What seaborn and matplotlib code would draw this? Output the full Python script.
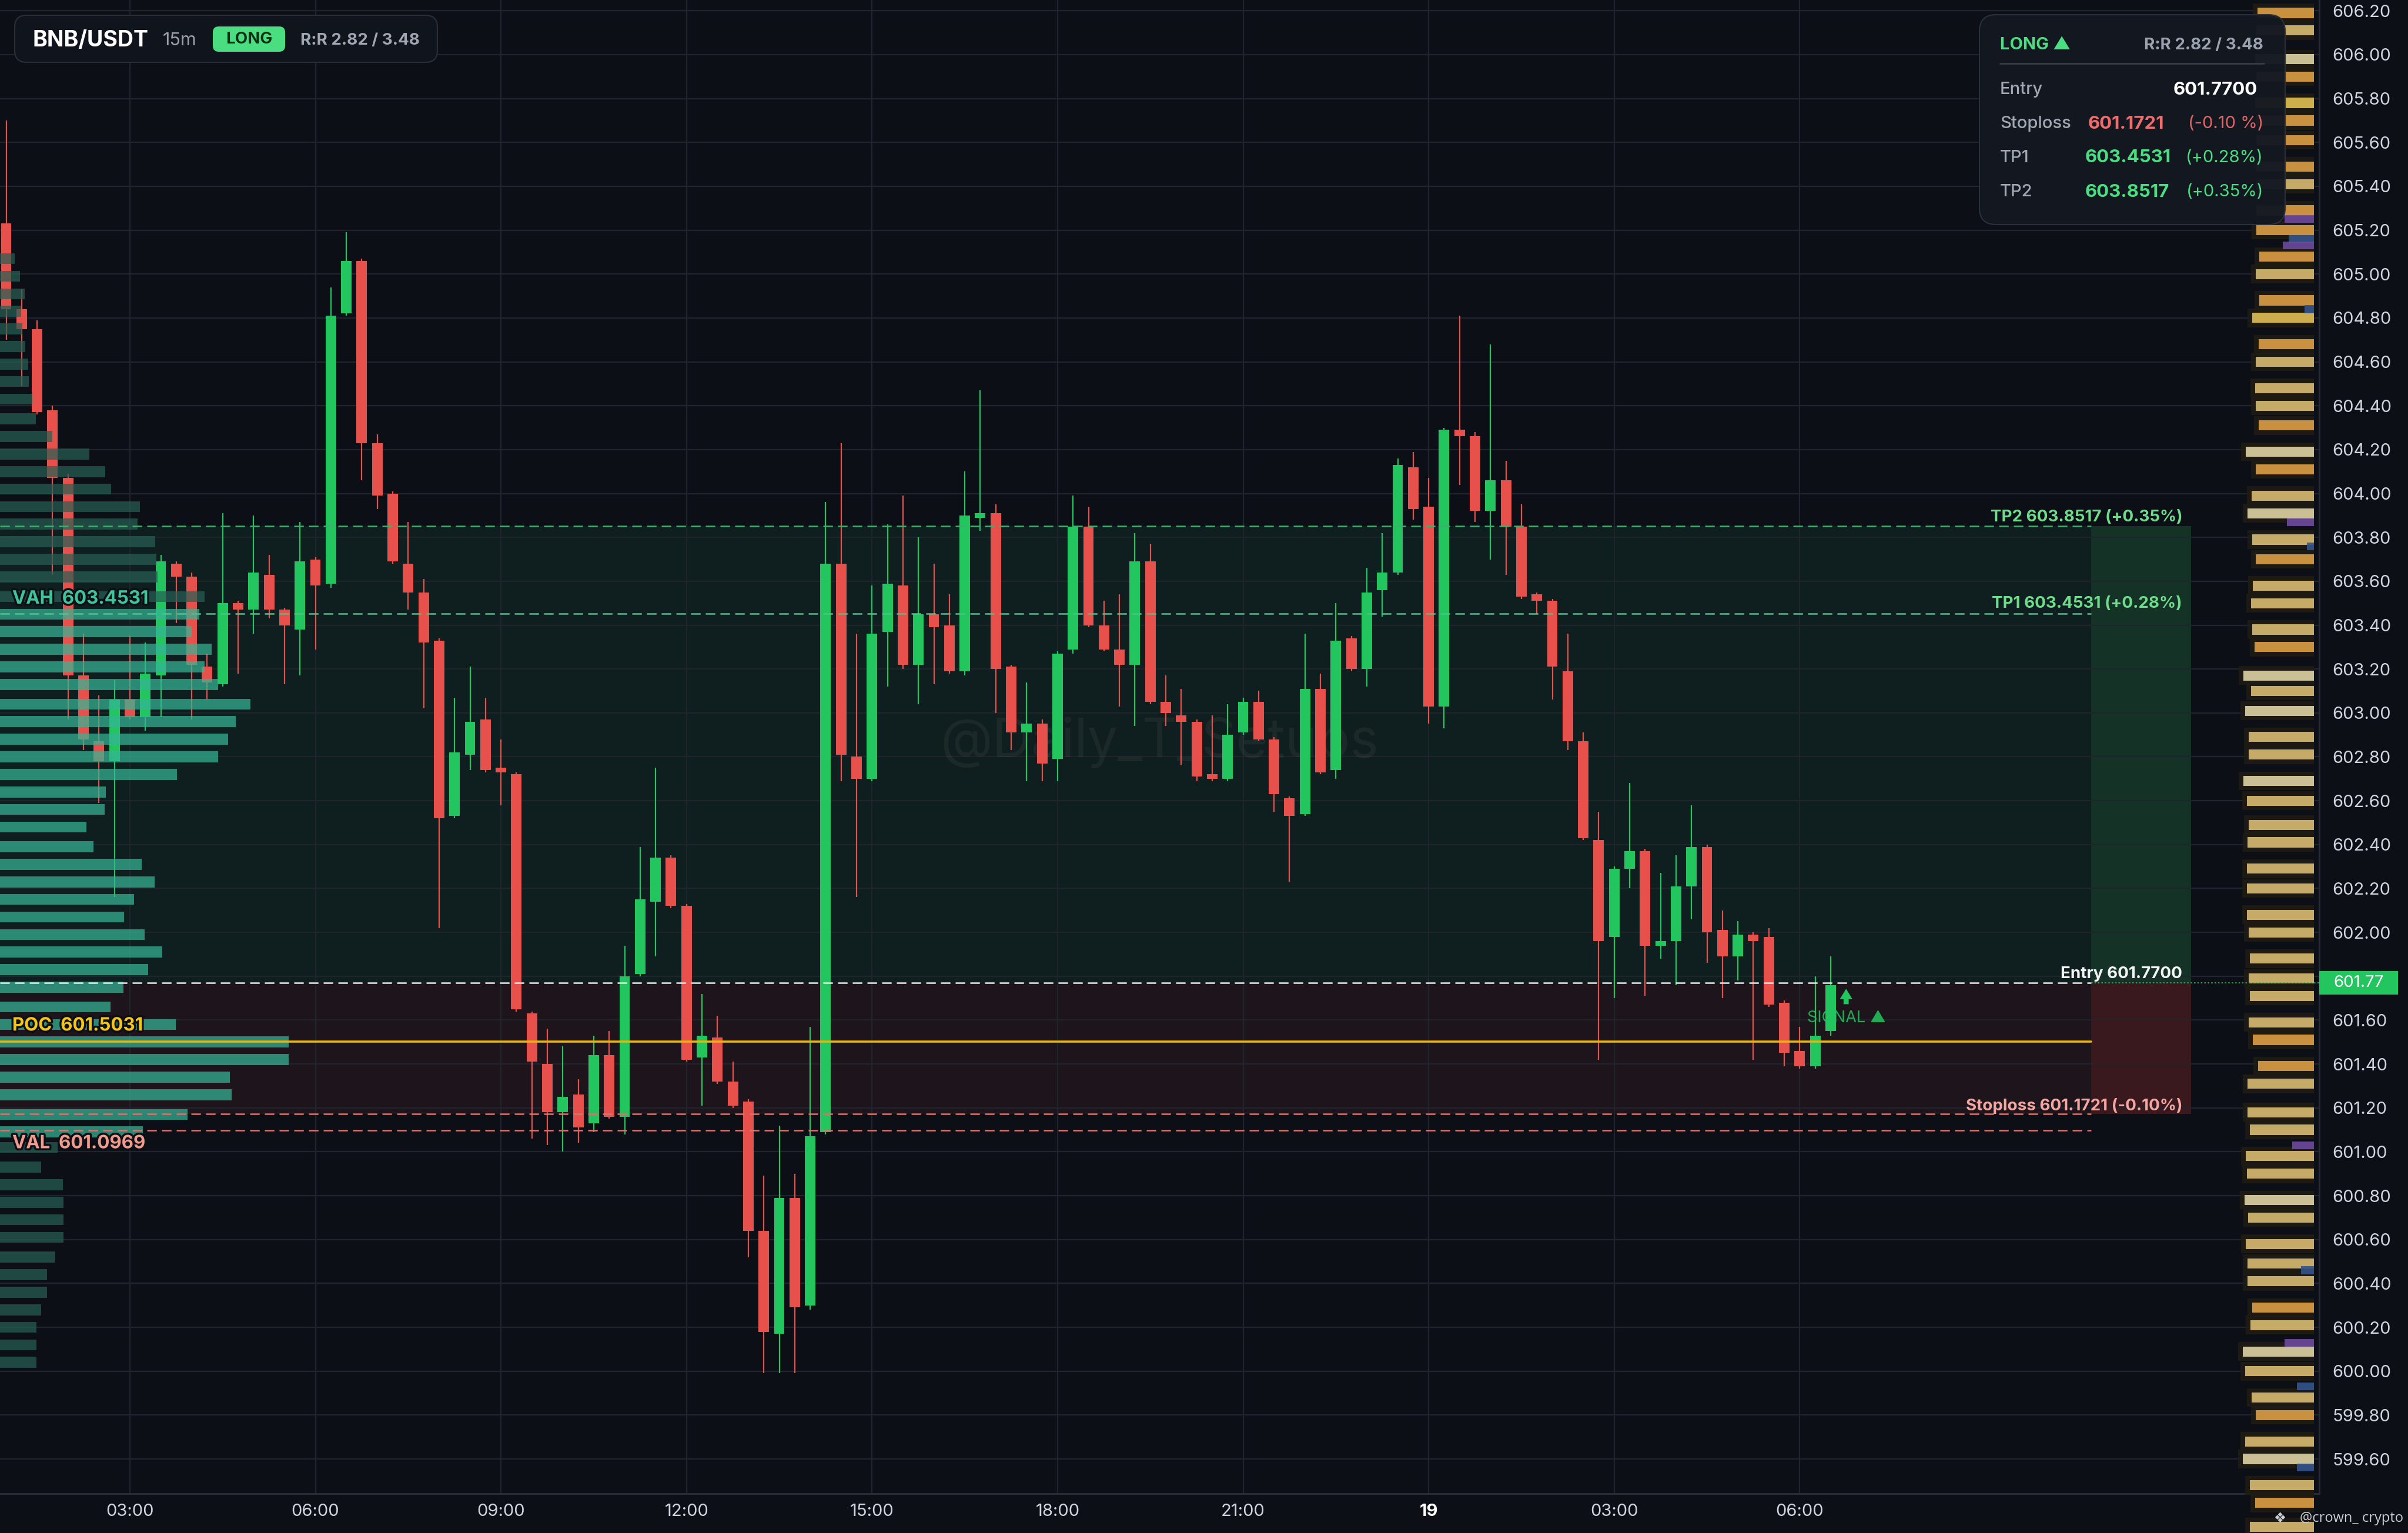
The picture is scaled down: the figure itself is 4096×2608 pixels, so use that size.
import matplotlib
matplotlib.use("Agg")
import matplotlib.pyplot as plt
import matplotlib.patheffects as pe
from matplotlib.lines import Line2D
from matplotlib.patches import FancyBboxPatch, Rectangle
import numpy as np
import pandas as pd
import seaborn as sns

# BNB/USDT 15m candles, 01:00 on the 18th to 06:30 on the 19th
opens = [605.23, 604.84, 604.75, 604.38, 604.07, 603.17, 602.87, 602.78, 603.06, 602.98,
         603.17, 603.68, 603.62, 603.21, 603.13, 603.50, 603.47, 603.63, 603.47, 603.38,
         603.70, 603.59, 604.82, 605.06, 604.23, 604.00, 603.68, 603.55, 603.33, 602.53,
         602.81, 602.97, 602.75, 602.72, 601.63, 601.40, 601.18, 601.26, 601.13, 601.44,
         601.16, 601.81, 602.14, 602.34, 602.12, 601.43, 601.52, 601.32, 601.23, 600.64,
         600.17, 600.79, 600.30, 601.09, 603.68, 602.80, 602.70, 603.37, 603.58, 603.22,
         603.45, 603.40, 603.19, 603.89, 603.91, 603.21, 602.91, 602.95, 602.79, 603.29,
         603.85, 603.40, 603.29, 603.22, 603.69, 603.05, 602.99, 602.96, 602.72, 602.70,
         602.91, 603.05, 602.88, 602.61, 602.54, 603.11, 602.74, 603.34, 603.20, 603.56,
         603.64, 604.12, 603.94, 603.03, 604.29, 604.26, 603.92, 604.06, 603.85, 603.54,
         603.51, 603.19, 602.87, 602.42, 601.98, 602.29, 602.37, 601.94, 601.96, 602.21,
         602.39, 602.01, 601.89, 601.99, 601.98, 601.68, 601.46, 601.39, 601.55]
highs = [605.70, 604.93, 604.79, 604.40, 604.09, 603.36, 603.08, 603.15, 603.35, 603.32,
         603.72, 603.69, 603.64, 603.27, 603.91, 603.51, 603.90, 603.72, 603.48, 603.87,
         603.71, 604.94, 605.19, 605.07, 604.27, 604.01, 603.87, 603.61, 603.34, 603.07,
         603.21, 603.07, 602.88, 602.73, 601.64, 601.56, 601.48, 601.33, 601.53, 601.55,
         601.94, 602.39, 602.75, 602.35, 602.13, 601.72, 601.62, 601.41, 601.24, 600.89,
         601.12, 600.90, 601.57, 603.96, 604.23, 603.36, 603.58, 603.86, 603.99, 603.80,
         603.68, 603.54, 604.10, 604.47, 603.95, 603.22, 603.14, 602.97, 603.28, 603.99,
         603.94, 603.51, 603.54, 603.82, 603.77, 603.17, 603.11, 602.97, 602.99, 603.04,
         603.07, 603.10, 602.89, 602.62, 603.36, 603.18, 603.50, 603.35, 603.66, 603.82,
         604.16, 604.19, 604.07, 604.30, 604.81, 604.28, 604.68, 604.15, 603.95, 603.55,
         603.52, 603.36, 602.91, 602.55, 602.30, 602.68, 602.38, 602.27, 602.35, 602.58,
         602.40, 602.10, 602.05, 602.00, 602.02, 601.69, 601.57, 601.80, 601.89]
lows = [604.70, 604.49, 604.36, 603.63, 602.97, 602.83, 602.59, 602.16, 602.97, 602.92,
        602.98, 603.41, 602.97, 603.06, 603.12, 603.18, 603.36, 603.43, 603.13, 603.17,
        603.29, 603.57, 604.81, 604.06, 603.93, 603.68, 603.47, 603.02, 602.02, 602.52,
        602.74, 602.73, 602.58, 601.64, 601.06, 601.03, 601.00, 601.04, 601.09, 601.15,
        601.08, 601.80, 601.89, 602.11, 601.41, 601.21, 601.31, 601.20, 600.52, 599.99,
        599.99, 599.99, 600.28, 601.08, 602.69, 602.16, 602.69, 603.12, 603.20, 603.04,
        603.13, 603.18, 603.17, 603.83, 603.00, 602.83, 602.69, 602.69, 602.69, 603.27,
        603.39, 603.28, 603.03, 602.94, 603.04, 602.94, 602.76, 602.69, 602.69, 602.69,
        602.90, 602.87, 602.55, 602.23, 602.53, 602.72, 602.70, 603.19, 603.12, 603.44,
        603.63, 603.88, 602.95, 602.93, 604.04, 603.87, 603.70, 603.63, 603.52, 603.45,
        603.06, 602.83, 602.42, 601.42, 601.70, 602.20, 601.71, 601.88, 601.76, 602.06,
        601.86, 601.70, 601.78, 601.42, 601.66, 601.39, 601.38, 601.38, 601.53]
closes = [604.84, 604.75, 604.37, 604.07, 603.17, 602.88, 602.78, 603.06, 602.98, 603.18,
          603.69, 603.62, 603.22, 603.14, 603.50, 603.47, 603.64, 603.47, 603.40, 603.69,
          603.58, 604.81, 605.06, 604.23, 603.99, 603.69, 603.55, 603.32, 602.52, 602.82,
          602.96, 602.74, 602.73, 601.65, 601.41, 601.18, 601.25, 601.11, 601.44, 601.16,
          601.80, 602.15, 602.34, 602.12, 601.42, 601.53, 601.32, 601.21, 600.64, 600.18,
          600.79, 600.29, 601.07, 603.68, 602.81, 602.70, 603.36, 603.59, 603.22, 603.45,
          603.39, 603.19, 603.90, 603.91, 603.20, 602.91, 602.95, 602.77, 603.27, 603.85,
          603.40, 603.29, 603.22, 603.69, 603.05, 603.00, 602.96, 602.71, 602.70, 602.90,
          603.05, 602.88, 602.63, 602.53, 603.11, 602.73, 603.33, 603.20, 603.55, 603.64,
          604.13, 603.93, 603.03, 604.29, 604.26, 603.92, 604.06, 603.85, 603.53, 603.51,
          603.21, 602.87, 602.43, 601.96, 602.29, 602.37, 601.94, 601.96, 602.21, 602.39,
          602.00, 601.89, 601.99, 601.96, 601.67, 601.45, 601.39, 601.53, 601.76]

time_tick_idx = [8, 20, 32, 44, 56, 68, 80, 92, 104, 116]
time_tick_labels = ["03:00", "06:00", "09:00", "12:00", "15:00", "18:00",
                    "21:00", "19", "03:00", "06:00"]

# trade setup / profile levels
entry = 601.77
stoploss = 601.1721
tp1 = 603.4531
tp2 = 603.8517
vah = 603.4531
poc = 601.5031
val = 601.0969

# session volume profile (left side)
vp_price = [605.07, 604.99, 604.91, 604.83, 604.75, 604.67, 604.59, 604.51, 604.43, 604.34,
            604.26, 604.18, 604.10, 604.02, 603.94, 603.86, 603.78, 603.70, 603.62, 603.53,
            603.45, 603.37, 603.29, 603.21, 603.13, 603.04, 602.96, 602.88, 602.80, 602.72,
            602.64, 602.56, 602.48, 602.39, 602.31, 602.23, 602.15, 602.07, 601.99, 601.91,
            601.83, 601.75, 601.66, 601.58, 601.50, 601.42, 601.34, 601.26, 601.17, 601.09,
            601.02, 600.93, 600.85, 600.77, 600.69, 600.61, 600.52, 600.44, 600.36, 600.28,
            600.20, 600.12, 600.04]
vp_volume = [25, 34, 42, 36, 38, 43, 48, 49, 55, 61,
             89, 152, 179, 189, 238, 234, 264, 266, 268, 348,
             339, 326, 360, 348, 371, 426, 401, 388, 371, 301,
             180, 178, 147, 159, 241, 263, 228, 211, 246, 276,
             252, 210, 188, 299, 491, 491, 391, 394, 319, 243,
             98, 70, 107, 108, 108, 108, 94, 80, 80, 70,
             62, 62, 62]

# order book depth (right side)
ob_price = [606.19, 606.11, 605.98, 605.90, 605.78, 605.70, 605.61, 605.49, 605.41, 605.29, 605.20,
            605.08, 605.00, 604.88, 604.80, 604.68, 604.60, 604.48, 604.40, 604.31, 604.19, 604.11,
            603.99, 603.91, 603.79, 603.70, 603.58, 603.50, 603.38, 603.30, 603.17, 603.10, 603.01,
            602.89, 602.81, 602.69, 602.60, 602.49, 602.41, 602.29, 602.20, 602.08, 602.00,
            601.88, 601.79, 601.71, 601.59, 601.51, 601.39, 601.31, 601.18, 601.10,
            600.98, 600.90, 600.78, 600.70, 600.58, 600.49, 600.41, 600.29, 600.21, 600.09, 600.00,
            599.88, 599.80, 599.68, 599.60, 599.48, 599.40, 599.29]
ob_size = [96, 98, 100, 98, 100, 98, 98, 98, 98, 98, 98,
           93, 99, 93, 105, 94, 99, 100, 99, 94, 116, 99,
           106, 113, 105, 99, 104, 107, 105, 101, 120, 107, 117,
           111, 111, 120, 114, 111, 113, 114, 114, 114, 111,
           109, 111, 109, 111, 104, 95, 113, 113, 109,
           116, 114, 118, 112, 116, 113, 113, 105, 108, 121, 117,
           106, 99, 117, 121, 109, 100, 109]
ob_kind = ["o", "t", "p", "o", "y", "o", "o", "o", "t", "o", "o",
           "o", "t", "o", "y", "o", "t", "t", "t", "o", "p", "o",
           "t", "p", "t", "o", "t", "t", "t", "o", "p", "t", "p",
           "t", "t", "p", "t", "t", "t", "t", "t", "t", "t",
           "t", "t", "t", "t", "o", "o", "t", "t", "t",
           "t", "t", "p", "t", "t", "t", "t", "o", "t", "p", "t",
           "t", "o", "t", "p", "t", "o", "t"]
ob_accent_price = [605.25, 605.16, 605.13, 604.84, 603.87, 603.76, 601.03, 600.46, 600.13, 599.93, 599.56]
ob_accent_size = [50, 43, 53, 16, 46, 12, 37, 22, 50, 29, 29]
ob_accent_kind = ["purple", "blue", "purple", "blue", "purple", "blue",
                  "purple", "blue", "purple", "blue", "blue"]

BG = "#0c0f16"
GRID = "#20242d"
UP = "#22c55e"
DOWN = "#e8504b"
TXT = "#d1d4dc"

sns.set_theme(style="dark", rc={
    "figure.facecolor": BG, "axes.facecolor": BG, "savefig.facecolor": BG,
    "axes.edgecolor": "#2a2e38", "grid.color": GRID,
    "xtick.color": TXT, "ytick.color": TXT, "text.color": TXT,
})
plt.rcParams["font.family"] = ["Inter", "DejaVu Sans"]

df = pd.DataFrame({"open": opens, "high": highs, "low": lows, "close": closes})
df["idx"] = np.arange(len(df))
df["color"] = np.where(df["close"] >= df["open"], UP, DOWN)
df["body_lo"] = df[["open", "close"]].min(axis=1)
df["body_h"] = (df["close"] - df["open"]).abs().clip(lower=0.012)

W, H = 4096, 2608
fig = plt.figure(figsize=(W / 100, H / 100), dpi=100)


def fxy(x, y):
    return x / W, 1 - y / H


rect = [0, 1 - 2541 / H, 3945 / W, 2541 / H]
YLIM = (599.442, 606.249)
XLIM = (-0.4, 149.6)

# main price axes: zones, grid, candles
ax = fig.add_axes(rect, zorder=1)
ax.set_xlim(*XLIM)
ax.set_ylim(*YLIM)

LINE_END = 3557 / 3945
BOX_END = 3727 / 3945
LABEL_X = 3712 / 3945

ax.axhspan(entry, tp2, xmin=0, xmax=LINE_END, color="#163c2d", alpha=0.35, lw=0, zorder=0.2)
ax.axhspan(entry, tp2, xmin=LINE_END, xmax=BOX_END, color="#1b4a30", alpha=0.6, lw=0, zorder=0.2)
ax.axhspan(stoploss, entry, xmin=0, xmax=LINE_END, color="#40222a", alpha=0.35, lw=0, zorder=0.2)
ax.axhspan(stoploss, entry, xmin=LINE_END, xmax=BOX_END, color="#592125", alpha=0.6, lw=0, zorder=0.2)

yt = np.round(np.arange(599.6, 606.21, 0.2), 2)
ax.set_yticks(yt)
# the 601.80 label sits behind the last-price tag
ax.set_yticklabels(["" if abs(v - 601.8) < 1e-6 else f"{v:.2f}" for v in yt])
ax.set_xticks(time_tick_idx)
ax.set_xticklabels(time_tick_labels)
ax.yaxis.tick_right()
ax.tick_params(axis="y", length=0, pad=16, labelsize=21, labelcolor=TXT)
ax.tick_params(axis="x", length=0, pad=12, labelsize=21, labelcolor=TXT)
for lab in ax.get_xticklabels():
    if lab.get_text() == "19":
        lab.set_fontweight("bold")
        lab.set_color("white")
ax.grid(True, color=GRID, lw=1.6)
ax.set_axisbelow(True)
sns.despine(ax=ax, top=True, left=True, right=False, bottom=False)
for s in ("right", "bottom"):
    ax.spines[s].set_color("#2a2e38")
    ax.spines[s].set_linewidth(2)

ax.text(0.5, 0.503, "@Daily_T_Setups", transform=ax.transAxes, ha="center", va="center",
        fontsize=66, color="white", alpha=0.05, zorder=1)

ax.vlines(df["idx"], df["low"], df["high"], colors=df["color"], lw=1.6, zorder=3)
ax.bar(df["idx"], df["body_h"], bottom=df["body_lo"], width=0.68, color=df["color"],
       lw=0, zorder=4)
ax.text(116.5, 601.61, "SIGNAL ▲", color=UP, alpha=0.85, fontsize=19.5, ha="left",
        va="center", zorder=2.9)

# volume profile drawn over the candles, semi-transparent
ax_vp = fig.add_axes(rect, zorder=1.5, sharey=ax)
ax_vp.set_xlim(0, 3945)
ax_vp.axis("off")
vp_col = ["#35b596" if val - 0.05 < p < vah + 0.03 else "#275f55" for p in vp_price]
ax_vp.barh(vp_price, vp_volume, height=0.05, color=vp_col, alpha=0.72, lw=0)

# order book depth strip
ax_ob = fig.add_axes([3700 / W, 0, 236 / W, 1], zorder=2)
ax_ob.set_xlim(236, 0)
ax_ob.set_ylim(599.2625, 606.249)
ax_ob.axis("off")
ob_colors = {"o": "#c8903f", "t": "#c6ab68", "p": "#cbbf96", "y": "#cdae4c"}
acc_colors = {"purple": "#6e4a9e", "blue": "#34548c"}
ob_size_arr = np.asarray(ob_size)
ax_ob.barh(ob_price, ob_size_arr + 8, height=0.085, color="#1f1c12", alpha=0.85, lw=0)
ax_ob.barh(ob_price, ob_size_arr, height=0.046, color=[ob_colors[k] for k in ob_kind], lw=0)
ax_ob.barh(ob_accent_price, ob_accent_size, height=0.035,
           color=[acc_colors[k] for k in ob_accent_kind], lw=0, alpha=0.9)

# overlay axes: level lines, labels, price tag
ax_top = fig.add_axes(rect, zorder=3, sharex=ax, sharey=ax)
ax_top.axis("off")
dash = (0, (6.5, 3.5))
ax_top.axhline(tp2, xmax=LINE_END, color="#3fae6e", ls=dash, lw=1.8)
ax_top.axhline(tp1, xmax=LINE_END, color="#4cc38a", ls=dash, lw=1.8)
ax_top.axhline(entry, xmax=LINE_END, color="#e5e7eb", ls=dash, lw=1.8)
ax_top.axhline(entry, xmin=LINE_END, xmax=1, color=UP, ls=(0, (1.5, 2)), lw=1.2)
ax_top.axhline(stoploss, xmax=LINE_END, color="#d9736f", ls=dash, lw=1.8)
ax_top.axhline(val, xmax=LINE_END, color="#d9736f", ls=dash, lw=1.8)
ax_top.axhline(poc, xmax=LINE_END, color="#eab308", lw=2.6)

yax = ax_top.get_yaxis_transform()
halo = [pe.withStroke(linewidth=5, foreground=BG)]


def level_label(x, y, txt, color, dy, ha="left", size=20, effects=None):
    ax_top.annotate(txt, xy=(x, y), xycoords=yax, xytext=(0, dy), textcoords="offset points",
                    ha=ha, va="center", fontsize=size, fontweight="bold", color=color,
                    path_effects=effects)


level_label(0.0053, vah, "VAH  603.4531", "#3ec39a", 17.8, size=22.5, effects=halo)
level_label(0.0053, poc, "POC  601.5031", "#f5c518", 19, size=22.5, effects=halo)
level_label(0.0053, val, "VAL  601.0969", "#f19a8e", -16, size=22.5, effects=halo)
level_label(LABEL_X, tp2, "TP2 603.8517 (+0.35%)", "#6fdc8c", 11, ha="right")
level_label(LABEL_X, tp1, "TP1 603.4531 (+0.28%)", "#6fdc8c", 12, ha="right")
level_label(LABEL_X, entry, "Entry 601.7700", "#f3f4f6", 11, ha="right")
level_label(LABEL_X, stoploss, "Stoploss 601.1721 (-0.10%)", "#f4a6a0", 10, ha="right")

ax_top.annotate("", xy=(119.0, 601.75), xytext=(119.0, 601.665),
                arrowprops=dict(arrowstyle="simple,head_width=1.1,head_length=0.9,tail_width=0.45",
                                color=UP, lw=0, mutation_scale=14))

ax_top.add_patch(Rectangle((1.0, entry - 0.0536), 0.034, 0.107, transform=yax, clip_on=False,
                           fc=UP, ec="none", zorder=9))
ax_top.text(1.017, entry, "601.77", transform=yax, ha="center", va="center", fontsize=20,
            color="white", zorder=10, clip_on=False)


def ftext(x, y, s, **kw):
    fx, fy = fxy(x, y)
    kw.setdefault("va", "center")
    return fig.text(fx, fy, s, zorder=5, **kw)


def fbox(x0, y0, x1, y1, r, **kw):
    fx0, fy1 = fxy(x0, y1)
    p = FancyBboxPatch((fx0, fy1), (x1 - x0) / W, (y1 - y0) / H,
                       boxstyle=f"round,pad=0,rounding_size={r / W}",
                       mutation_aspect=W / H, transform=fig.transFigure, zorder=4, **kw)
    fig.add_artist(p)


# header box
fbox(25, 26, 744, 106, 20, fc="#10141c", ec="#2a2f3a", lw=1.5)
ftext(56, 69, "BNB/USDT", fontsize=27, fontweight="bold", color="white")
ftext(277, 69, "15m", fontsize=22, color="#9aa0ab")
fbox(362, 45, 485, 88, 10, fc="#4ade80", ec="none")
ftext(423.5, 67, "LONG", fontsize=20, fontweight="bold", color="#0a2e16", ha="center")
ftext(511, 69, "R:R 2.82 / 3.48", fontsize=20, fontweight="bold", color="#a0a6b2")

# trade panel
fbox(3367, 25, 3887, 382, 28, fc="#131821", ec="#2c323d", lw=1.5, alpha=0.97)
ftext(3402, 77, "LONG ▲", fontsize=21, fontweight="bold", color="#4ade80")
ftext(3850, 77, "R:R 2.82 / 3.48", fontsize=20, fontweight="bold", color="#9ca3af", ha="right")
fig.add_artist(Line2D([3402 / W, 3851 / W], [1 - 108 / H] * 2, color="#363c48", lw=2, zorder=5))
ftext(3402, 153, "Entry", fontsize=21, fontweight="medium", color="#a1a7b3")
ftext(3840, 153, "601.7700", fontsize=22.5, fontweight="bold", color="white", ha="right")
ftext(3402, 211, "Stoploss", fontsize=21, fontweight="medium", color="#a1a7b3")
ftext(3552, 211, "601.1721", fontsize=22.5, fontweight="bold", color="#f06b6b")
ftext(3850, 211, "(-0.10 %)", fontsize=21, color="#e06666", ha="right")
ftext(3402, 268, "TP1", fontsize=21, fontweight="medium", color="#a1a7b3")
ftext(3547, 268, "603.4531", fontsize=22.5, fontweight="bold", color="#4ade80")
ftext(3850, 268, "(+0.28%)", fontsize=21, color="#4ade80", ha="right")
ftext(3402, 327, "TP2", fontsize=21, fontweight="medium", color="#a1a7b3")
ftext(3547, 327, "603.8517", fontsize=22.5, fontweight="bold", color="#4ade80")
ftext(3850, 327, "(+0.35%)", fontsize=21, color="#4ade80", ha="right")

# credit, right-aligned so it stays inside the canvas
ftext(3878, 2583, "❖", fontsize=17, color="#c9ccd3", ha="center", family=["DejaVu Sans"])
ftext(4088, 2583, "@crown_ crypto", fontsize=17, color="#c9ccd3", ha="right",
      family=["Open Sans", "DejaVu Sans"])

fig.savefig("out.png", dpi=100, facecolor=BG)
